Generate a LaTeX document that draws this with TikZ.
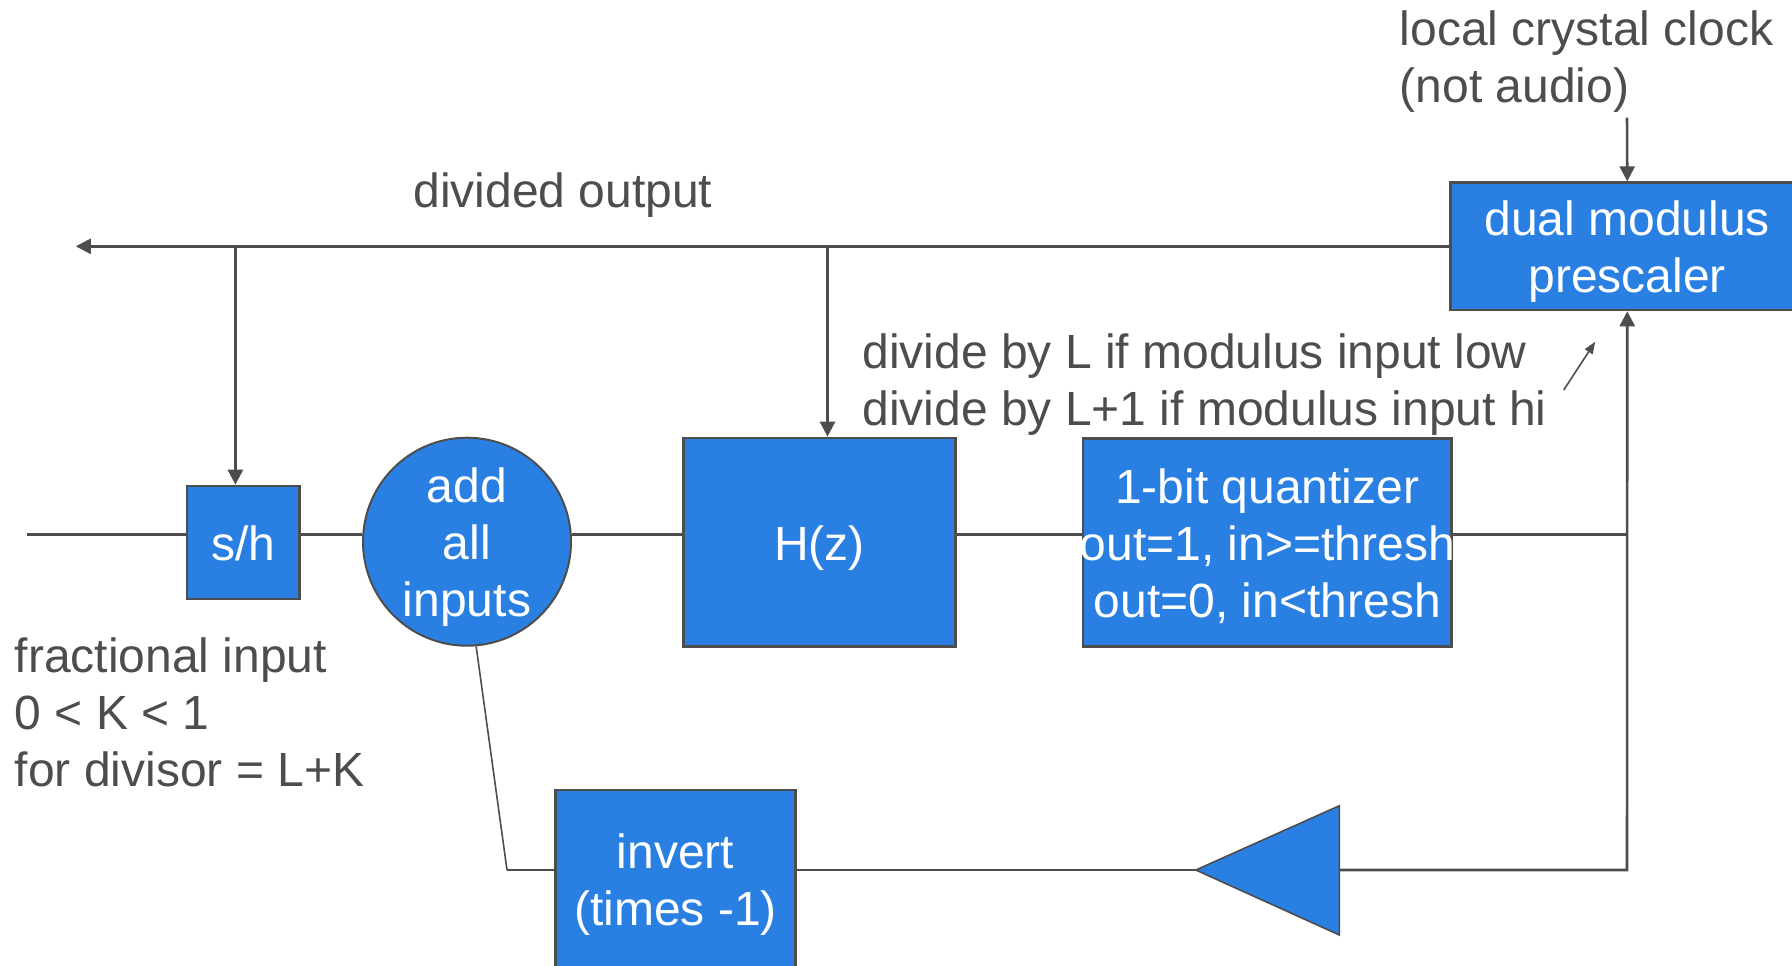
\documentclass[tikz,border=0pt]{standalone}
\usepackage{fontspec}
\setmainfont{Liberation Sans}
\usetikzlibrary{arrows.meta}
\definecolor{blockblue}{HTML}{2A80E2}
\definecolor{wire}{HTML}{4D4D4D}
\definecolor{inkgray}{HTML}{4D4D4D}
\newcommand\diagfont{\fontsize{24}{28.5}\selectfont}
\begin{document}
\begin{tikzpicture}[x=0.5pt,y=-0.5pt,
  block/.style={draw=wire, line width=1.3pt, fill=blockblue, inner sep=0pt},
  btext/.style={text=white, font=\diagfont, align=center, inner sep=0pt, yshift=-3.3pt},
  gtext/.style={text=inkgray, font=\diagfont, align=left, inner sep=0pt},
  conn/.style={draw=wire, line width=1.3pt},
  thinwire/.style={draw=wire, line width=0.8pt},
  arr/.style={-{Triangle[length=7.5pt,width=7.5pt]}},
  smallarr/.style={-{Triangle[length=6pt,width=4.5pt]}}]
\useasboundingbox (0,0) rectangle (1792,965);
\clip (0,0) rectangle (1792,965);

% blocks
\node[block, minimum width=56.25pt, minimum height=56.5pt] (sh) at (243.35,542.5) {};
\node[block, circle, line width=1pt, minimum size=104pt] (add) at (467,541.7) {};
\node[block, minimum width=136pt, minimum height=104.25pt] (Hz) at (819.4,542.2) {};
\node[block, minimum width=184.35pt, minimum height=104.2pt] (quant) at (1267.3,542.5) {};
\node[block, minimum width=176.75pt, minimum height=63.65pt] (dual) at (1627.25,246.3) {};
\node[block, minimum width=120.25pt, minimum height=88.8pt] (inv) at (675.5,878.8) {};

% amplifier triangle in the feedback path
\coordinate (tritip) at (1195.8,870);
\coordinate (tritop) at (1339.4,805.7);
\coordinate (tribot) at (1339.4,935);
\coordinate (tribase) at (1339.4,870);
\draw[draw=wire, line width=0.8pt, fill=blockblue] (tritip) -- (tritop) -- (tribot) -- cycle;

% block labels
\node[btext] (shtext) at (sh.center) {\strut s/h};
\node[btext] (addtext) at (add.center) {\strut add\\\strut all\\\strut inputs};
\node[btext] (Hztext) at (Hz.center) {\strut H(z)};
\node[btext] (quanttext) at (quant.center) {\strut 1-bit quantizer\\\strut out=1, in>=thresh\\\strut out=0, in<thresh};
\node[btext] (dualtext) at (dual.center) {\strut dual modulus\\\strut prescaler};
\node[btext] (invtext) at (inv.center) {\strut invert\\\strut (times -1)};

% free ends and corners
\coordinate (outend) at (75.8,246.3);
\coordinate (tapsh) at (235.4,246.3);
\coordinate (taphz) at (827.5,246.3);
\coordinate (clk) at (1627,117.7);
\coordinate (inp) at (27.2,534.3);
\coordinate (fbc) at (1627,870);
\coordinate (invc) at (507,870);
\coordinate (notefrom) at (1563.7,390);
\coordinate (noteto) at (1595.2,341.7);

% connectors
\draw[conn,arr] (dual.west) -- (outend);
\draw[conn,arr] (tapsh) -- (tapsh |- sh.north);
\draw[conn,arr] (taphz) -- (taphz |- Hz.north);
\draw[conn,arr] (clk) -- (dual.north);
\draw[conn] (inp) -- (inp -| sh.west);
\draw[conn] (sh.east |- add.176) -- (add.176);
\draw[conn] (add.4) -- (add.4 -| Hz.west);
\draw[conn] (Hz.east |- add.4) -- (quant.west |- add.4);
\draw[conn] (quant.east |- add.4) -- (dual.south |- add.4);
\draw[conn,arr] (tribase) -- (fbc) -- (dual.south);
\draw[conn] (tritip) -- (inv.east |- tritip);
\draw[conn] (inv.west |- invc) -- (invc);
\draw[thinwire] (invc) -- (add.275);
\draw[thinwire,smallarr] (notefrom) -- (noteto);

% annotations
\node[gtext, anchor=north west] (clocknote) at (1399.5,5.1) {\strut local crystal clock\\\strut (not audio)};
\node[gtext, anchor=base west] (outnote) at (413,207.7) {divided output};
\node[gtext, anchor=north west] (modnote) at (862,327.8) {\strut divide by L if modulus input low\\\strut divide by L+1 if modulus input hi};
\node[gtext, anchor=north west] (fracnote) at (14.5,631.8) {\strut fractional input\\\strut 0 < K < 1\\\strut for divisor = L+K};
\end{tikzpicture}
\end{document}
